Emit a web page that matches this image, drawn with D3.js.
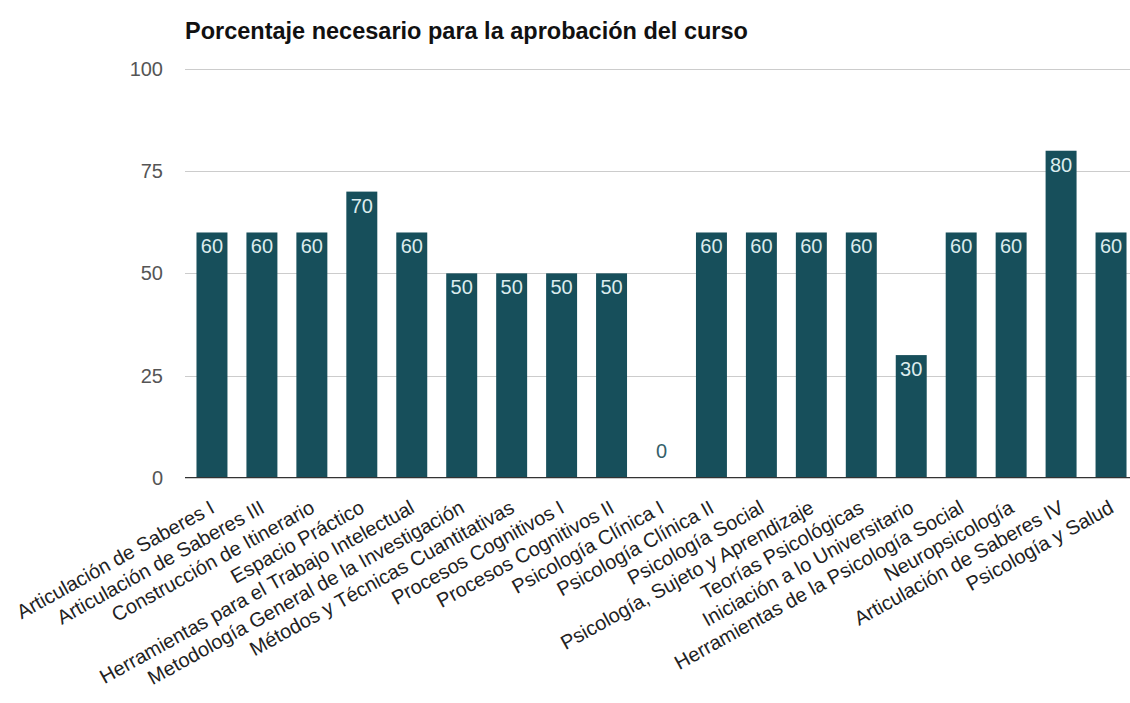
<!DOCTYPE html>
<html>
<head>
<meta charset="utf-8">
<script src="https://cdn.jsdelivr.net/npm/d3@7"></script>
<style>
  body { margin: 0; background: #fff; }
  svg { display: block; font-family: Arial, "Liberation Sans", sans-serif; }
</style>
</head>
<body>
<div id="chart"></div>
<script>
const categories = [
    'Articulación de Saberes I', 'Articulación de Saberes III', 'Construcción de Itinerario',
    'Espacio Práctico', 'Herramientas para el Trabajo Intelectual',
    'Metodología General de la Investigación', 'Métodos y Técnicas Cuantitativas',
    'Procesos Cognitivos I', 'Procesos Cognitivos II', 'Psicología Clínica I',
    'Psicología Clínica II', 'Psicología Social', 'Psicología, Sujeto y Aprendizaje',
    'Teorías Psicológicas', 'Iniciación a lo Universitario',
    'Herramientas de la Psicología Social', 'Neuropsicología',
    'Articulación de Saberes IV', 'Psicología y Salud'
];
const values = [60, 60, 60, 70, 60, 50, 50, 50, 50, 0, 60, 60, 60, 60, 30, 60, 60, 80, 60];
const yTicks = [0, 25, 50, 75, 100];
const title = 'Porcentaje necesario para la aprobación del curso';

const width = 1130, height = 703;
const margin = { top: 69, right: 0, bottom: 225, left: 187 };

const svg = d3.select('#chart').append('svg')
    .attr('width', width)
    .attr('height', height);

const x = d3.scaleBand()
    .domain(categories)
    .range([margin.left, 1136])
    .paddingInner(0.38)
    .paddingOuter(0.19);

const y = d3.scaleLinear()
    .domain([0, 100])
    .range([477.7, margin.top]);

// Gridlines
svg.append('g')
    .selectAll('line')
    .data(yTicks.filter(d => d > 0))
    .join('line')
    .attr('x1', 185).attr('x2', width)
    .attr('y1', d => Math.round(y(d)) + 0.5)
    .attr('y2', d => Math.round(y(d)) + 0.5)
    .attr('stroke', '#cccccc');

// Y tick labels
svg.append('g')
    .selectAll('text')
    .data(yTicks)
    .join('text')
    .attr('x', 163)
    .attr('y', d => y(d))
    .attr('dy', '0.35em')
    .attr('text-anchor', 'end')
    .attr('fill', '#555')
    .attr('font-size', '20px')
    .text(d => d);

// Bars
svg.append('g')
    .selectAll('rect')
    .data(values)
    .join('rect')
    .attr('x', (d, i) => x(categories[i]))
    .attr('width', x.bandwidth())
    .attr('y', d => y(d))
    .attr('height', d => y(0) - y(d))
    .attr('fill', '#174f5b');

// Value labels
svg.append('g')
    .selectAll('text')
    .data(values)
    .join('text')
    .attr('x', (d, i) => x(categories[i]) + x.bandwidth() / 2)
    .attr('y', d => d > 0 ? y(d) + 21 : y(0) - 20)
    .attr('text-anchor', 'middle')
    .attr('fill', d => d > 0 ? '#dcecee' : '#355f6a')
    .attr('font-size', '20px')
    .text(d => d);

// Baseline
svg.append('line')
    .attr('x1', 185).attr('x2', width)
    .attr('y1', y(0)).attr('y2', y(0))
    .attr('stroke', '#333')
    .attr('stroke-width', 1.2);

// X labels, rotated
svg.append('g')
    .selectAll('text')
    .data(categories)
    .join('text')
    .attr('transform', d => `translate(${x(d) + x.bandwidth() / 2 + 4},${y(0) + 34}) rotate(-29)`)
    .attr('text-anchor', 'end')
    .attr('fill', '#222')
    .attr('font-size', '20px')
    .text(d => d);

// Title
svg.append('text')
    .attr('x', 185)
    .attr('y', 39)
    .attr('font-weight', 'bold')
    .attr('font-size', '23.5px')
    .attr('fill', '#111')
    .text(title);
</script>
</body>
</html>
